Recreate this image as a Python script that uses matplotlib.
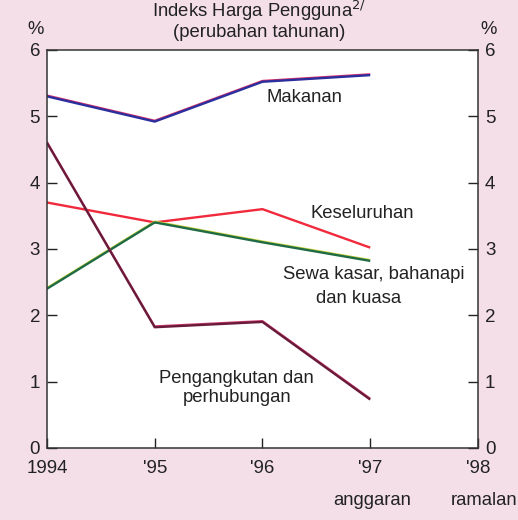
import matplotlib
matplotlib.use("Agg")
import matplotlib.pyplot as plt
from matplotlib.transforms import offset_copy

plt.rcParams["font.family"] = ["Liberation Sans", "DejaVu Sans"]

years = [1994, 1995, 1996, 1997]
makanan = [5.3, 4.92, 5.52, 5.62]
keseluruhan = [3.7, 3.4, 3.6, 3.02]
sewa = [2.4, 3.4, 3.1, 2.82]
pengangkutan = [4.6, 1.82, 1.9, 0.73]

tick_years = [1994, 1995, 1996, 1997, 1998]
tick_labels = ["1994", "'95", "'96", "'97", "'98"]

bg = "#f4dfe8"
fig = plt.figure(figsize=(5.18, 5.2), dpi=100)
fig.patch.set_facecolor(bg)
ax = fig.add_axes([0.0907, 0.1385, 0.832, 0.7655])
ax.set_facecolor("white")

def twotone(y, main, edge=None):
    # thin coloured edge sitting just above the main stroke
    if edge:
        tr = offset_copy(ax.transData, fig=fig, x=0, y=0.8, units="points")
        ax.plot(years, y, color=edge, lw=1.2, transform=tr, solid_capstyle="butt")
    ax.plot(years, y, color=main, lw=1.7, solid_capstyle="butt")

twotone(makanan, "#2b2f9e", "#d8306a")
twotone(keseluruhan, "#f02a3c")
twotone(sewa, "#1f6b45", "#c8d23a")
twotone(pengangkutan, "#6a1a3a", "#d04070")

ax.set_xlim(1994, 1998)
ax.set_ylim(0, 6)
ax.set_yticks(range(0, 7))
ax.set_xticks(tick_years)
ax.set_xticklabels(tick_labels)
ax.tick_params(axis="both", direction="in", length=7, width=1, labelsize=13.5,
               colors="#222222")
ax.tick_params(axis="y", left=True, right=True,
               labelleft=True, labelright=True, pad=5)
ax.tick_params(axis="x", pad=9)
for s in ax.spines.values():
    s.set_color("#333333")
    s.set_linewidth(1.1)

tc = "#222222"
fs = 13.3
ax.text(1996.39, 5.29, "Makanan", ha="center", va="center", fontsize=fs, color=tc)
ax.text(1996.93, 3.54, "Keseluruhan", ha="center", va="center", fontsize=fs, color=tc)
ax.text(1997.03, 2.61, "Sewa kasar, bahanapi", ha="center", va="center", fontsize=fs, color=tc)
ax.text(1996.89, 2.26, "dan kuasa", ha="center", va="center", fontsize=fs, color=tc)
ax.text(1995.76, 0.9, "Pengangkutan dan\nperhubungan", ha="center", va="center",
        fontsize=fs, color=tc, linespacing=1.15)

fig.text(0.5, 0.978, "Indeks Harga Pengguna$^{2/}$", ha="center", va="center",
         fontsize=fs, color=tc)
fig.text(0.5, 0.937, "(perubahan tahunan)", ha="center", va="center",
         fontsize=fs, color=tc)
fig.text(0.069, 0.944, "%", ha="center", va="center", fontsize=fs, color=tc)
fig.text(0.944, 0.944, "%", ha="center", va="center", fontsize=fs, color=tc)
fig.text(0.718, 0.038, "anggaran", ha="center", va="center", fontsize=fs, color=tc)
fig.text(0.935, 0.038, "ramalan", ha="center", va="center", fontsize=fs, color=tc)

fig.savefig("out.png", dpi=100, facecolor=fig.get_facecolor())
